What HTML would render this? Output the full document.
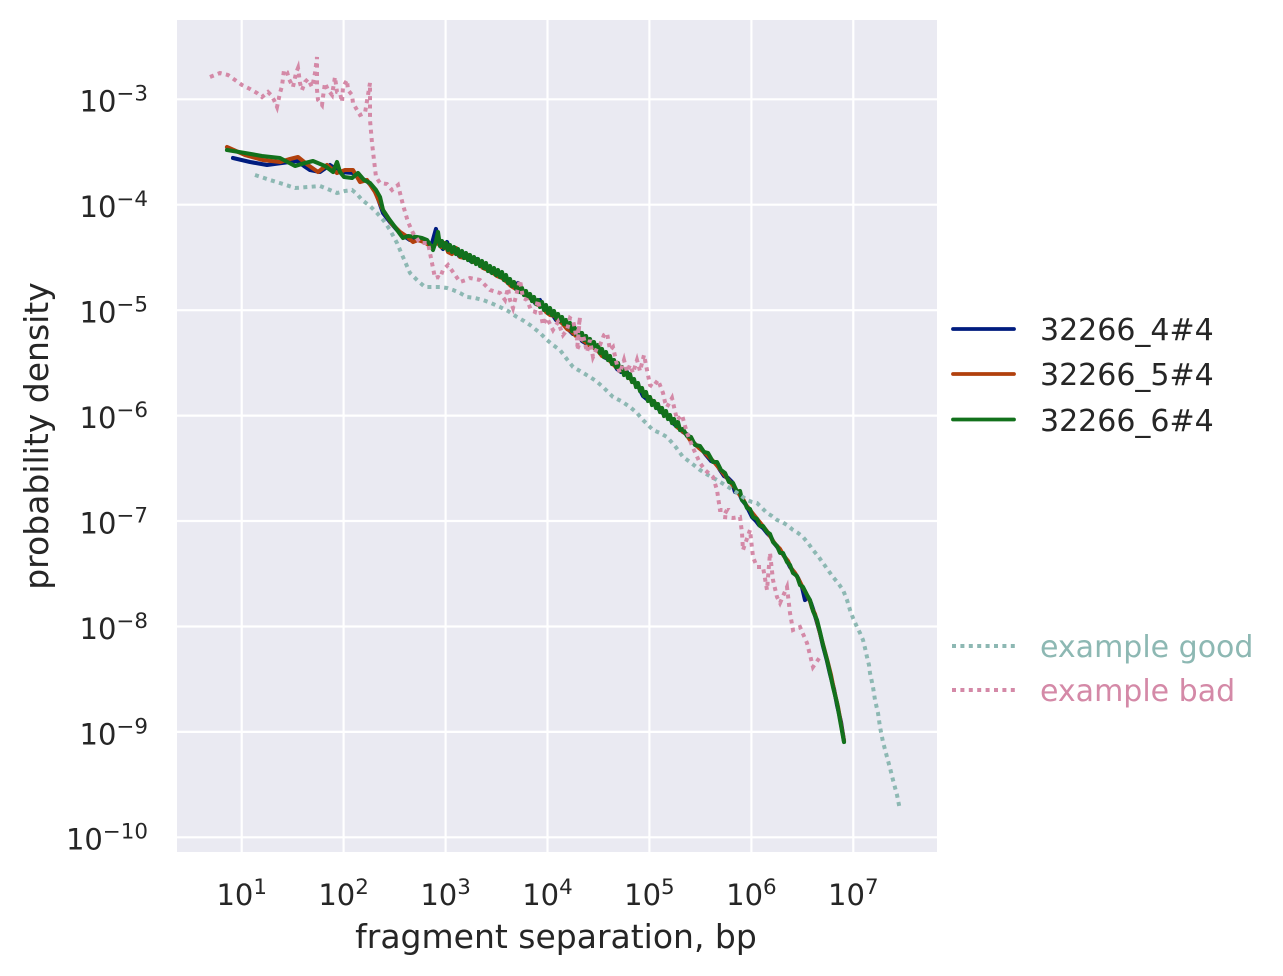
<!DOCTYPE html>
<html>
<head>
<meta charset="utf-8">
<style>
html,body{margin:0;padding:0;background:#fff;}
svg{display:block;}
text{font-family:"DejaVu Sans","Liberation Sans",sans-serif;fill:#262626;}
</style>
</head>
<body>
<svg width="1283" height="976" viewBox="0 0 1283 976" xmlns="http://www.w3.org/2000/svg">
<rect x="0" y="0" width="1283" height="976" fill="#ffffff"/>
<!-- plot area -->
<rect x="177" y="20" width="760" height="832" fill="#eaeaf2"/>
<g stroke="#ffffff" stroke-width="2.2">
<line x1="241.7" y1="20" x2="241.7" y2="852"/>
<line x1="343.6" y1="20" x2="343.6" y2="852"/>
<line x1="445.6" y1="20" x2="445.6" y2="852"/>
<line x1="547.5" y1="20" x2="547.5" y2="852"/>
<line x1="649.4" y1="20" x2="649.4" y2="852"/>
<line x1="751.4" y1="20" x2="751.4" y2="852"/>
<line x1="853.3" y1="20" x2="853.3" y2="852"/>
<line x1="177" y1="99.3" x2="937" y2="99.3"/>
<line x1="177" y1="204.7" x2="937" y2="204.7"/>
<line x1="177" y1="310.2" x2="937" y2="310.2"/>
<line x1="177" y1="415.6" x2="937" y2="415.6"/>
<line x1="177" y1="521.0" x2="937" y2="521.0"/>
<line x1="177" y1="626.5" x2="937" y2="626.5"/>
<line x1="177" y1="731.9" x2="937" y2="731.9"/>
<line x1="177" y1="837.3" x2="937" y2="837.3"/>
</g>

<g fill="none" stroke-width="4.1" stroke-linejoin="round" stroke-linecap="round">
<!-- blue -->
<polyline stroke="#001c7f" points="233,158 250,162 267,165 282,163 297,161 304,166 310,170 320,172 330,165 340,172 353,173 360,178 367,181 375,190 383,213 390,222 397,230 404,236 410,240 416,238 422,240 427,242 431,247 434,236 436,229 439,244 443,249 447,242 450,250 455,248 459,256 463,253 467,258 472,262 477,259 482,266 486,268 491,272 496,274 501,277 505,279 510,285 514,287 518,283 522,291 527,296 531,297 535,303 540,300 543,307 548,313 552,314 556,320 560,321 565,324 569,330 573,334 578,334 582,341 587,344 592,344 596,350 600,352 604,357 608,359 613,362 617,369 621,372 626,370 630,378 635,383 639,388 643,396 648,400 652,401 657,407 661,412 666,415 670,419 674,424 679,428 683,432 688,435 692,441 697,446 701,448 706,455 711,461 716,463 720,470 724,476 728,478 732,482 735,492 739,493 742,500 746,505 749,511 752,517 756,521 759,525 763,528 767,533 771,537 774,543 778,548 782,553 786,559 790,567 794,572 798,578 802,587 805,600 808,597 811,603 813,609 816,619 820,633 823,646 827,661 830,674 834,689 837,705 841,722 844,741"/>
<!-- orange -->
<polyline stroke="#b1400d" points="227,147 245,155 263,160 280,162 290,159 298,157 308,165 318,172 327,165 337,173 345,170 353,170 360,182 367,180 375,192 383,210 392,224 400,232 406,236 413,242 418,240 424,242 429,245 433,247 437,242 441,247 445,243 448,252 452,254 456,248 460,257 465,258 469,255 474,262 478,263 483,268 488,270 492,272 497,276 502,278 507,282 511,286 516,289 520,287 524,293 528,297 533,300 538,305 542,304 546,312 550,315 555,316 558,321 562,323 567,329 571,331 576,336 580,338 585,342 589,345 593,347 598,351 602,356 606,357 611,362 616,367 620,369 624,373 628,375 632,381 636,384 641,390 646,395 650,399 655,403 659,407 664,413 668,416 673,420 677,427 681,430 686,434 690,440 695,444 699,448 704,452 709,457 714,462 719,468 723,473 727,478 731,483 735,488 739,494 743,499 746,505 750,510 754,515 758,520 762,525 766,530 769,534 773,541 776,545 780,549 784,556 788,561 791,568 795,573 799,580 802,586 806,593 810,601 812,608 815,614 818,625 821,637 824,648 828,663 831,675 834,690 838,707 841,724 844,741"/>
<!-- green -->
<polyline stroke="#12711c" points="227,150 245,153 262,156 280,158 295,166 305,163 313,161 325,166 333,172 337,162 340,172 344,177 352,178 358,173 364,180 370,183 376,190 380,197 383,210 389,219 395,227 400,234 403,238 408,236 417,237 422,238 427,240 431,246 433,250 436,241 438,232 440,246 442,241 444,248 446,243 448,250 450,245 452,252 454,247 456,254 458,249 460,256 462,251 464,258 466,253 468,260 470,255 472,262 474,257 476,264 478,259 480,266 482,261 484,268 486,263 488,271 490,266 492,273 494,268 496,275 498,270 500,277 502,272 504,280 506,275 508,283 510,279 512,286 514,282 516,289 518,285 520,292 522,288 524,295 526,291 528,298 530,294 532,301 534,297 536,304 538,300 540,307 542,302 544,310 546,305 548,313 550,308 552,315 554,311 556,318 558,314 560,321 562,317 564,324 566,320 568,327 570,323 572,331 574,326 576,334 578,329 580,337 582,333 584,340 586,336 588,343 590,339 592,347 594,342 596,350 598,345 600,353 602,349 604,357 606,352 608,360 610,356 612,364 614,360 616,367 618,363 620,371 622,367 624,375 626,370 628,378 630,374 632,382 634,379 636,387 638,383 640,391 642,388 644,396 646,392 648,401 650,397 652,405 654,401 656,408 658,404 660,412 662,408 664,416 666,411 668,419 670,415 672,423 674,419 676,426 678,422 680,430 683,429 687,436 691,437 695,445 700,446 704,452 708,453 713,462 717,462 721,470 725,473 729,482 733,483 737,492 740,491 742,500 745,503 747,508 750,509 753,517 757,519 760,526 763,526 767,532 770,534 773,542 777,546 780,553 783,553 787,562 790,565 793,573 797,576 800,585 803,587 807,595 810,600 813,611 817,620 820,632 823,645 827,660 830,673 833,687 837,703 840,720 844,742"/>
</g>

<g fill="none" stroke-width="4" stroke-dasharray="4 4.4" stroke-linecap="butt" stroke-linejoin="miter">
<!-- example good -->
<polyline stroke="#8db8b3" points="255,175 270,180 283,184 295,188 308,187 320,186 330,190 337,193 345,191 352,190 357,194 362,200 370,206 377,213 384,221 390,230 397,243 403,257 410,273 418,281 425,287 432,287 440,287 447,288 453,290 460,293 467,297 475,298 483,300 491,303 500,307 508,311 517,317 524,321 530,325 535,329 540,333 547,340 553,345 560,350 566,358 573,367 580,371 590,377 596,381 603,387 608,392 613,397 621,401 630,407 637,413 643,420 648,425 653,430 660,433 667,437 675,446 683,457 690,462 700,470 708,475 717,480 725,485 733,490 740,495 747,500 752,502 757,503 762,508 767,513 772,516 777,520 782,522 787,525 793,530 798,533 803,537 808,543 813,550 818,556 823,563 828,570 833,577 838,583 843,590 847,600 850,610 853,618 857,627 860,633 863,640 865,648 867,657 869,665 870,673 873,687 875,700 878,713 880,727 883,742 887,757 890,768 893,780 897,795 900,810"/>
<!-- example bad -->
<polyline stroke="#d489a7" points="210,77 220,73 228,75 235,80 242,85 250,89 257,93 262,97 268,92 271,95 274,100 277,107 280,93 282,86 284,70 287,72 289,79 293,87 296,73 298,68 300,83 302,90 305,82 308,79 312,87 313,83 315,73 317,57 317,90 318,100 322,105 323,97 325,83 328,90 332,95 335,77 337,92 340,93 342,102 343,87 347,80 348,90 352,95 353,103 357,110 360,115 365,113 370,83 370,120 372,143 374,160 376,177 380,183 387,184 392,190 398,185 403,205 408,222 413,233 420,243 428,243 432,263 435,278 438,277 440,278 443,270 447,266 448,265 453,272 460,282 466,280 470,278 480,280 490,290 500,293 505,300 508,288 510,300 513,308 517,292 520,280 523,298 527,300 531,310 535,312 538,300 543,325 547,318 553,330 558,322 563,335 567,330 570,318 573,320 577,340 580,317 577,350 583,335 587,352 590,340 593,357 597,348 600,345 604,335 607,333 610,350 613,347 617,365 620,373 624,360 627,372 630,365 633,373 637,360 640,371 644,355 647,370 650,385 653,387 658,380 663,393 665,402 667,407 672,398 677,420 682,415 687,433 693,448 700,463 705,470 713,477 717,490 720,510 727,510 723,517 733,518 740,517 742,533 743,550 750,530 753,557 757,567 763,567 767,590 770,553 773,580 777,597 780,603 787,587 790,613 793,630 800,627 807,643 813,667 820,657"/>
</g>

<!-- y tick labels -->
<g font-size="29" text-anchor="end">
<text x="148" y="111.7">10<tspan font-size="21.4" dy="-11">−3</tspan></text>
<text x="148" y="217.1">10<tspan font-size="21.4" dy="-11">−4</tspan></text>
<text x="148" y="322.6">10<tspan font-size="21.4" dy="-11">−5</tspan></text>
<text x="148" y="428.0">10<tspan font-size="21.4" dy="-11">−6</tspan></text>
<text x="148" y="533.4">10<tspan font-size="21.4" dy="-11">−7</tspan></text>
<text x="148" y="638.9">10<tspan font-size="21.4" dy="-11">−8</tspan></text>
<text x="148" y="744.3">10<tspan font-size="21.4" dy="-11">−9</tspan></text>
<text x="148" y="849.7">10<tspan font-size="21.4" dy="-11">−10</tspan></text>
</g>
<!-- x tick labels -->
<g font-size="29" text-anchor="middle">
<text x="241.7" y="905">10<tspan font-size="21.4" dy="-11">1</tspan></text>
<text x="343.6" y="905">10<tspan font-size="21.4" dy="-11">2</tspan></text>
<text x="445.6" y="905">10<tspan font-size="21.4" dy="-11">3</tspan></text>
<text x="547.5" y="905">10<tspan font-size="21.4" dy="-11">4</tspan></text>
<text x="649.4" y="905">10<tspan font-size="21.4" dy="-11">5</tspan></text>
<text x="751.4" y="905">10<tspan font-size="21.4" dy="-11">6</tspan></text>
<text x="853.3" y="905">10<tspan font-size="21.4" dy="-11">7</tspan></text>
</g>
<!-- axis labels -->
<text x="556" y="948" font-size="33" text-anchor="middle">fragment separation, bp</text>
<text transform="translate(48,436) rotate(-90)" font-size="33" text-anchor="middle">probability density</text>

<!-- legend -->
<g stroke-width="3.8" stroke-linecap="round">
<line x1="953" y1="329" x2="1014" y2="329" stroke="#001c7f"/>
<line x1="953" y1="374" x2="1014" y2="374" stroke="#b1400d"/>
<line x1="953" y1="419.5" x2="1014" y2="419.5" stroke="#12711c"/>
</g>
<g stroke-width="4" stroke-dasharray="4 4.4">
<line x1="952" y1="646" x2="1015" y2="646" stroke="#8db8b3"/>
<line x1="952" y1="690" x2="1015" y2="690" stroke="#d489a7"/>
</g>
<g font-size="30">
<text x="1040" y="340">32266_4#4</text>
<text x="1040" y="385">32266_5#4</text>
<text x="1040" y="431">32266_6#4</text>
<text x="1040" y="657" style="fill:#8db8b3">example good</text>
<text x="1040" y="701" style="fill:#d489a7">example bad</text>
</g>
</svg>
</body>
</html>
